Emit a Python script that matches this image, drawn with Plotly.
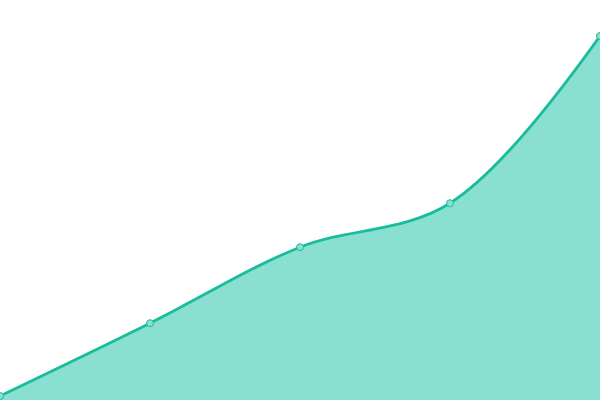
import plotly.graph_objects as go

x_vals = [0, 1, 2, 3, 4]
y_vals = [1, 19.2, 38.2, 49.2, 91]

fig = go.Figure()
fig.add_trace(go.Scatter(
    x=x_vals, y=y_vals, mode="lines+markers",
    line=dict(color="#1abc9c", width=2.8, shape="spline", smoothing=1.0),
    fill="tozeroy", fillcolor="#89e0d0",
    marker=dict(size=7, color="#89e0d0", line=dict(color="#1abc9c", width=1)),
    hoverinfo="x+y",
))
fig.update_layout(
    width=600, height=400,
    margin=dict(l=0, r=0, t=0, b=0),
    paper_bgcolor="white", plot_bgcolor="white",
    showlegend=False,
    xaxis=dict(visible=False, range=[0, 4]),
    yaxis=dict(visible=False, range=[0, 100]),
)
fig.write_html("out.html", config={"displayModeBar": False},
               post_script="document.body.style.margin='0';document.body.style.overflow='hidden';")
